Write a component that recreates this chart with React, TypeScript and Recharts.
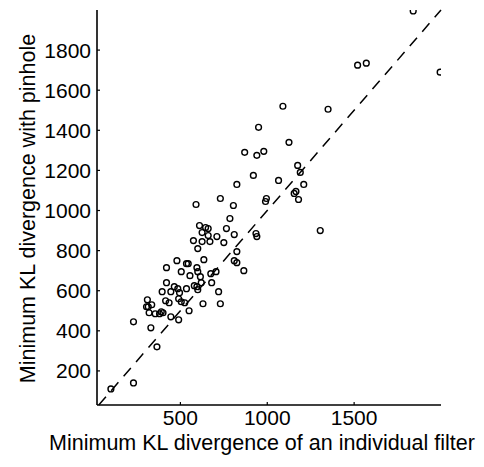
import React from 'react';
import { ScatterChart, Scatter, XAxis, YAxis, ReferenceLine } from 'recharts';

// Minimum KL divergence of the best individual filter (x) vs. with pinhole (y)
const filterKL = [
  1840, 1520, 1570, 1995, 1090, 1350, 950, 1125, 870, 940,
  980, 1175, 1190, 1065, 920, 1210, 1165, 1155, 1180, 590,
  730, 805, 825, 995, 990, 1305, 785, 610, 645, 660,
  765, 710, 810, 625, 660, 575, 625, 670, 750, 600,
  935, 940, 825, 810, 825, 865, 635, 535, 545, 480,
  420, 505, 595, 600, 555, 615, 705, 675, 620, 680,
  420, 395, 445, 465, 485, 495, 535, 490, 505, 595,
  600, 630, 720, 730, 415, 435, 550, 490, 445, 390,
  400, 355, 320, 310, 305, 315, 335, 330, 230, 365,
  230, 100, 380, 525, 580,
];
const pinholeKL = [
  1995, 1725, 1735, 1690, 1520, 1505, 1415, 1340, 1290, 1275,
  1295, 1225, 1190, 1150, 1175, 1130, 1095, 1085, 1055, 1030,
  1060, 1025, 1130, 1060, 1045, 900, 960, 925, 915, 910,
  910, 870, 880, 890, 875, 850, 845, 845, 840, 810,
  885, 870, 795, 750, 740, 700, 755, 735, 735, 750,
  715, 695, 715, 695, 675, 670, 695, 685, 640, 640,
  640, 595, 595, 620, 610, 590, 610, 560, 545, 620,
  605, 535, 595, 535, 550, 540, 500, 455, 470, 495,
  490, 485, 490, 555, 520, 520, 530, 415, 445, 320,
  140, 110, 485, 540, 625,
];

const xTicks = [500, 1000, 1500];
const yTicks = [200, 400, 600, 800, 1000, 1200, 1400, 1600, 1800];
const xDomain = [20, 2000];
const yDomain = [30, 2000];
// identity line y = x
const identity = [30, 2000];

const xTitle = 'Minimum KL divergence of an individual filter';
const yTitle = 'Minimum KL divergence with pinhole';

const FONT = '"Liberation Sans", Arial, Helvetica, sans-serif';

const points = filterKL.map((x, i) => ({ x, y: pinholeKL[i] }));

const OpenCircle = (props: any) => {
  const { cx, cy } = props;
  if (cx == null || cy == null) return null;
  return <circle cx={cx} cy={cy} r={2.9} fill="none" stroke="#000" strokeWidth={1.4} />;
};

const XTitle = (props: any) => {
  const vb = props.viewBox;
  const cx = vb.x + vb.width / 2 - 7;
  return (
    <text x={cx} y={vb.y + 45} textAnchor="middle" fontSize={21.5} fontFamily={FONT} fill="#000">
      {xTitle}
    </text>
  );
};

const YTitle = (props: any) => {
  const vb = props.viewBox;
  const x = vb.x + 35;
  const y = vb.y + vb.height / 2 + 1;
  return (
    <text
      x={x}
      y={y}
      transform={`rotate(-90 ${x} ${y})`}
      textAnchor="middle"
      fontSize={21.5}
      fontFamily={FONT}
      fill="#000"
    >
      {yTitle}
    </text>
  );
};

const tickStyle = { fontSize: 21, fontFamily: FONT, fill: '#000' };

export default function App() {
  return (
    <div style={{ position: 'absolute', left: 0, top: 0, background: '#fff' }}>
      <ScatterChart width={484} height={467} margin={{ top: 10, right: 43, bottom: 0, left: 0 }}>
        <XAxis
          type="number"
          dataKey="x"
          domain={xDomain}
          ticks={xTicks}
          allowDataOverflow
          height={62}
          tick={tickStyle}
          tickSize={-3}
          tickMargin={8}
          axisLine={{ stroke: '#000', strokeWidth: 1.6 }}
          tickLine={{ stroke: '#000', strokeWidth: 1.2 }}
          label={<XTitle />}
        />
        <YAxis
          type="number"
          dataKey="y"
          domain={yDomain}
          ticks={yTicks}
          allowDataOverflow
          width={97}
          tick={tickStyle}
          tickSize={-3}
          tickMargin={9}
          axisLine={{ stroke: '#000', strokeWidth: 1.6 }}
          tickLine={{ stroke: '#000', strokeWidth: 1.2 }}
          label={<YTitle />}
        />
        <ReferenceLine
          segment={[
            { x: identity[0], y: identity[0] },
            { x: identity[1], y: identity[1] },
          ]}
          stroke="#000"
          strokeWidth={1.5}
          strokeDasharray="11 8"
        />
        <Scatter data={points} shape={<OpenCircle />} isAnimationActive={false} />
      </ScatterChart>
    </div>
  );
}
